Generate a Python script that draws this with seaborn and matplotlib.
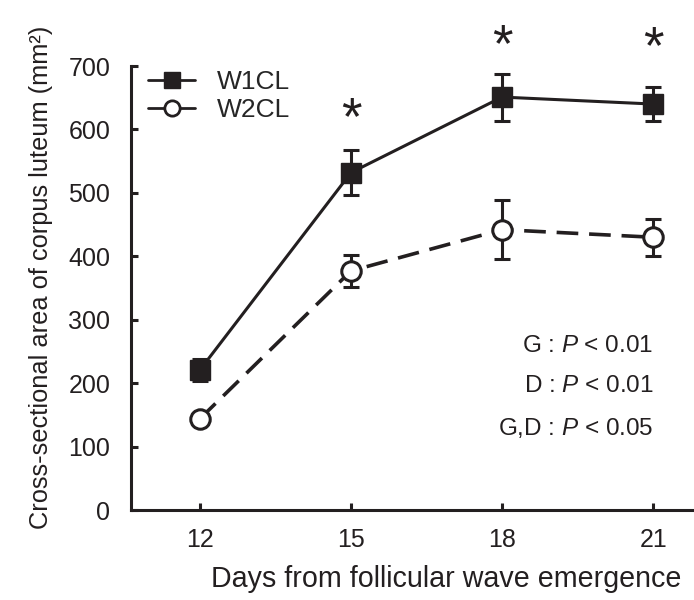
import matplotlib
matplotlib.use("Agg")
import matplotlib.pyplot as plt
from matplotlib.lines import Line2D
import seaborn as sns
import pandas as pd

days = [12, 15, 18, 21]
w1_mean = [221, 532, 651, 640]
w1_se = [17, 36, 37, 27]
w2_mean = [144, 377, 442, 430]
w2_se = [8, 25, 46, 29]
star_days = [15, 18, 21]
star_y = [634, 749, 746]
stats_lines = ["G : $P$ < 0.01", "D : $P$ < 0.01", "G,D : $P$ < 0.05"]
stats_y = [259, 195, 130]
xticks = [12, 15, 18, 21]
yticks = [0, 100, 200, 300, 400, 500, 600, 700]

sns.set_theme(style="ticks")
plt.rcParams['font.family'] = ['Liberation Sans', 'DejaVu Sans']
plt.rcParams['mathtext.fontset'] = 'custom'
plt.rcParams['mathtext.rm'] = 'Liberation Sans'
plt.rcParams['mathtext.it'] = 'Liberation Sans:italic'

df1 = pd.DataFrame({"day": days, "area": w1_mean})
df2 = pd.DataFrame({"day": days, "area": w2_mean})

fig = plt.figure(figsize=(6.94, 6.0), dpi=100)
ax = fig.add_axes([131/694, 1-510/600, (693-131)/694, (510-66)/600])

txtc = "#231f20"

ax.errorbar(days, w1_mean, yerr=w1_se, fmt='none', ecolor=txtc, elinewidth=2.2,
            capsize=6, capthick=2.2, zorder=2)
ax.errorbar(days, w2_mean, yerr=w2_se, fmt='none', ecolor=txtc, elinewidth=2.2,
            capsize=6, capthick=2.2, zorder=2)

sns.lineplot(data=df1, x="day", y="area", ax=ax, color=txtc, linewidth=2.2,
             marker='s', markersize=14, markeredgecolor=txtc, markerfacecolor=txtc,
             markeredgewidth=1, zorder=3)
sns.lineplot(data=df2, x="day", y="area", ax=ax, color=txtc, linewidth=2.6,
             linestyle=(0, (6, 3)), marker='o', markersize=14, markeredgecolor=txtc,
             markerfacecolor='white', markeredgewidth=2.2, zorder=3)

for d, y in zip(star_days, star_y):
    ax.annotate("*", xy=(d, y), xytext=(0, -9), textcoords='offset points',
                ha='center', va='center', fontsize=38, color=txtc, annotation_clip=False)

for t, y in zip(stats_lines, stats_y):
    ax.text(21.0, y, t, ha='right', va='center', fontsize=17.5, color=txtc)

ax.set_xlim(10.63, 21.79)
ax.set_ylim(0, 700)
ax.set_xticks(xticks)
ax.set_yticks(yticks)
ax.tick_params(direction='in', length=5, width=2.2, colors=txtc, labelsize=18)
ax.tick_params(axis='y', pad=15)
ax.tick_params(axis='x', pad=13)
for s in ['top', 'right']:
    ax.spines[s].set_visible(False)
for s in ['left', 'bottom']:
    ax.spines[s].set_linewidth(2.2)
    ax.spines[s].set_color(txtc)

ax.set_xlabel("Days from follicular wave emergence", fontsize=20.6, color=txtc,
              labelpad=9, x=0.56)
ax.set_ylabel("Cross-sectional area of corpus luteum (mm²)", fontsize=18.3, color=txtc,
              labelpad=11, y=0.525)

handles = [
    Line2D([], [], color=txtc, linewidth=2, marker='s', markersize=11,
           markerfacecolor=txtc, markeredgecolor=txtc),
    Line2D([], [], color=txtc, linewidth=2, marker='o', markersize=11,
           markerfacecolor='white', markeredgecolor=txtc, markeredgewidth=2),
]
ax.legend(handles=handles, labels=["W1CL", "W2CL"], loc='upper left',
          bbox_to_anchor=(0.03, 0.99), frameon=False, fontsize=19,
          handlelength=1.8, handletextpad=0.8, labelspacing=0.15,
          borderaxespad=0, borderpad=0)

fig.savefig("out.png", dpi=100)
